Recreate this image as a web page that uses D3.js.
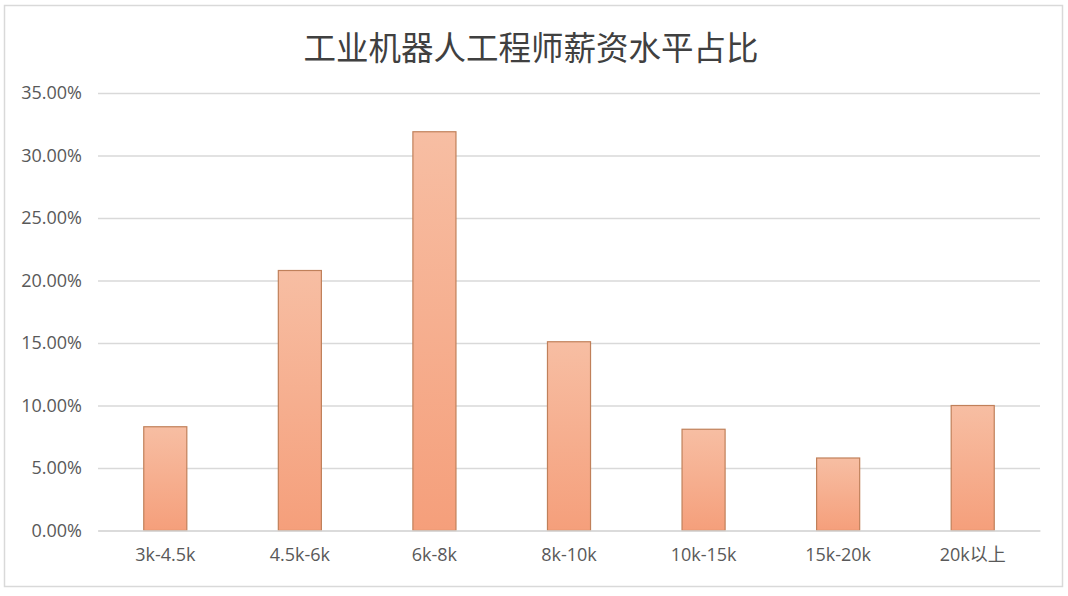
<!DOCTYPE html>
<html>
<head>
<meta charset="utf-8">
<script src="https://cdn.jsdelivr.net/npm/d3@7"></script>
<style>
  html, body { margin: 0; padding: 0; background: #fff; }
  svg { display: block; }
</style>
</head>
<body>
<script>
const width = 1068;
const height = 596;

// 数据
const categories = ["3k-4.5k", "4.5k-6k", "6k-8k", "8k-10k", "10k-15k", "15k-20k", "20k以上"];
const shares = [8.3, 20.8, 31.9, 15.1, 8.1, 5.8, 10.0];
const yTicks = [0, 5, 10, 15, 20, 25, 30, 35];

const margin = { top: 93, right: 30, bottom: 66, left: 98 };
const plotW = 1040 - margin.left;
const plotH = 530.5 - margin.top;

const svg = d3.select("body")
    .append("svg")
    .attr("width", width)
    .attr("height", height);

// 渐变
const defs = svg.append("defs");
const grad = defs.append("linearGradient")
    .attr("id", "barGrad")
    .attr("x1", 0).attr("y1", 0).attr("x2", 0).attr("y2", 1);
grad.append("stop").attr("offset", "0%").attr("stop-color", "#f7bea3");
grad.append("stop").attr("offset", "100%").attr("stop-color", "#f59f7b");

// 外框
svg.append("rect")
    .attr("x", 4.5).attr("y", 5.5)
    .attr("width", 1058).attr("height", 581)
    .attr("fill", "#fff")
    .attr("stroke", "#d9d9d9")
    .attr("stroke-width", 1.5);

// 标题
svg.append("text")
    .attr("x", 531)
    .attr("y", 60)
    .attr("text-anchor", "middle")
    .attr("font-family", "Noto Sans CJK SC")
    .attr("font-size", "32.5px")
    .attr("fill", "#404040")
    .text("工业机器人工程师薪资水平占比");

const g = svg.append("g")
    .attr("transform", `translate(${margin.left},${margin.top})`);

const x = d3.scaleBand()
    .domain(categories)
    .range([0, plotW])
    .paddingInner(0.68)
    .paddingOuter(0.34);

const y = d3.scaleLinear()
    .domain([0, 35])
    .range([plotH, 0]);

// 网格线 + y轴标签
const yAxis = g.append("g")
    .call(d3.axisLeft(y)
        .tickValues(yTicks)
        .tickSize(-plotW)
        .tickPadding(16)
        .tickFormat(d => d.toFixed(2) + "%"));
yAxis.select(".domain").remove();
yAxis.selectAll(".tick line")
    .attr("stroke", "#d9d9d9")
    .attr("stroke-width", 1.5);
yAxis.selectAll(".tick text")
    .attr("font-family", "Open Sans")
    .attr("font-size", "18px")
    .attr("fill", "#595959");

// 柱子
g.selectAll("rect.bar")
    .data(shares)
    .enter()
    .append("rect")
    .attr("class", "bar")
    .attr("x", (d, i) => x(categories[i]))
    .attr("y", d => y(d))
    .attr("width", x.bandwidth())
    .attr("height", d => plotH - y(d))
    .attr("fill", "url(#barGrad)")
    .attr("stroke", "#c0805a")
    .attr("stroke-width", 1.2);

// x轴
const xAxis = g.append("g")
    .attr("transform", `translate(0,${plotH})`)
    .call(d3.axisBottom(x).tickSize(0).tickPadding(18));
xAxis.select(".domain")
    .attr("stroke", "#d9d9d9")
    .attr("stroke-width", 1.5);
xAxis.selectAll(".tick text")
    .attr("font-family", "Open Sans, Noto Sans CJK SC")
    .attr("font-size", "18px")
    .attr("fill", "#595959");
</script>
</body>
</html>
